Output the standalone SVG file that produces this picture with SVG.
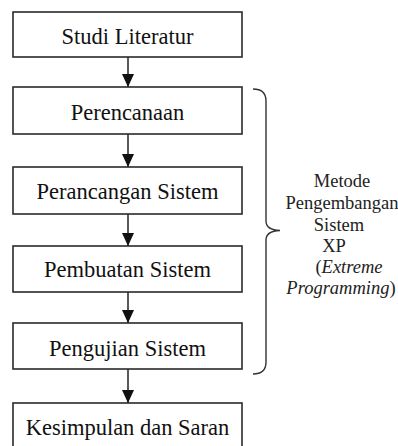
<svg xmlns="http://www.w3.org/2000/svg" width="398" height="446" viewBox="0 0 398 446">
<style>
.box{fill:#fff;stroke:#2a2a2a;stroke-width:1.6}
.lbl{font-family:'Liberation Serif','DejaVu Serif',Tinos,serif;font-size:22.5px;fill:#111;text-anchor:middle}
.side{font-family:'Liberation Serif','DejaVu Serif',Tinos,serif;font-size:18.5px;fill:#222;text-anchor:middle}
.conn{stroke:#222;stroke-width:1.5;fill:none}
.brace{stroke:#333;stroke-width:1.4;fill:none}
</style>
<defs>
<marker id="ah" markerUnits="userSpaceOnUse" markerWidth="13" markerHeight="12" viewBox="0 0 13 12" refX="13" refY="6" orient="auto">
<path d="M0,0 L13,6 L0,12 Z" fill="#111"/>
</marker>
</defs>
<rect width="398" height="446" fill="#fff"/>
<g id="connectors">
<line class="conn" x1="128" y1="57" x2="128" y2="87" marker-end="url(#ah)"/>
<line class="conn" x1="128" y1="134" x2="128" y2="167" marker-end="url(#ah)"/>
<line class="conn" x1="128" y1="214" x2="128" y2="246" marker-end="url(#ah)"/>
<line class="conn" x1="128" y1="292" x2="128" y2="323" marker-end="url(#ah)"/>
<line class="conn" x1="128" y1="369" x2="128" y2="403" marker-end="url(#ah)"/>
</g>
<g id="n1"><rect class="box" x="13" y="12" width="229" height="45"/><text class="lbl" x="127.5" y="44">Studi Literatur</text></g>
<g id="n2"><rect class="box" x="13" y="87" width="229" height="47"/><text class="lbl" x="127.5" y="120">Perencanaan</text></g>
<g id="n3"><rect class="box" x="13" y="167" width="229" height="47"/><text class="lbl" x="127.5" y="199">Perancangan Sistem</text></g>
<g id="n4"><rect class="box" x="13" y="246" width="229" height="46"/><text class="lbl" x="127.5" y="277">Pembuatan Sistem</text></g>
<g id="n5"><rect class="box" x="13" y="323" width="229" height="46"/><text class="lbl" x="127.5" y="356">Pengujian Sistem</text></g>
<g id="n6"><rect class="box" x="13" y="403" width="229" height="48"/><text class="lbl" x="127.5" y="435">Kesimpulan dan Saran</text></g>
<g id="brace">
<path class="brace" d="M253,89 Q266,89 266,101 L266,221 Q266,230 280,230.5 Q266,231 266,240 L266,362 Q266,374 253,374"/>
</g>
<g id="label">
<text class="side" x="342" y="187">Metode</text>
<text class="side" x="342" y="209">Pengembangan</text>
<text class="side" x="339" y="231">Sistem</text>
<text class="side" x="334" y="252">XP</text>
<text class="side" x="349" y="273">(<tspan font-style="italic">Extreme</tspan></text>
<text class="side" x="341" y="294"><tspan font-style="italic">Programming</tspan>)</text>
</g>
</svg>
